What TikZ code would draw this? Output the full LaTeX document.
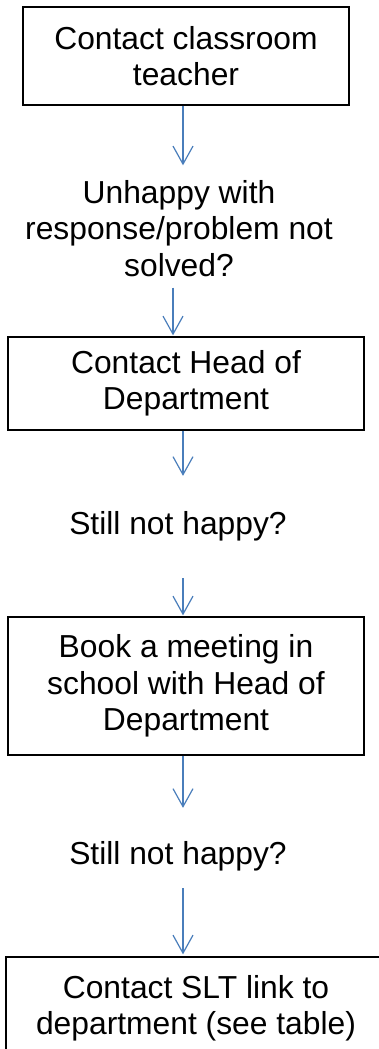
\documentclass[tikz,border=0pt]{standalone}
\usepackage{fontspec}
\setmainfont{Liberation Sans}
\usepackage{tikz}
\usetikzlibrary{arrows.meta,shapes}
\usepackage{xcolor}
\definecolor{dfarrow}{RGB}{74,126,187}
\newcommand{\flowfont}{\fontsize{31.8}{36.5}\selectfont}
\tikzstyle{stepbox} = [rectangle, draw=black, line width=1.3pt, inner sep=0pt, align=center, font=\flowfont]
\tikzstyle{question} = [inner sep=0pt, align=center, font=\flowfont]
\tikzstyle{arrow} = [line width=1.2pt, -{Straight Barb[length=18pt,width=20pt]}, color=dfarrow]

\begin{document}
\begin{tikzpicture}[x=1pt, y=-1pt]
\useasboundingbox (0,0) rectangle (378,1049);

% Steps and questions
\node[stepbox, minimum width=326pt, minimum height=98pt] (teacher) at (186,56) {Contact classroom\\teacher};
\node[question] (unhappy) at (179,228.5) {Unhappy with\\response/problem not\\solved?};
\node[stepbox, minimum width=356pt, minimum height=93pt] (hod) at (186,383.5) {Contact Head of\\Department};
\node[question] (still1) at (178,526.7) {Still not happy?};
\node[stepbox, minimum width=356pt, minimum height=138pt] (meeting) at (186,686) {Book a meeting in\\school with Head of\\Department};
\node[question] (still2) at (178,856.7) {Still not happy?};
\node[stepbox, minimum width=380pt, minimum height=103pt] (slt) at (196,1008.5) {Contact SLT link to\\department (see table)};

% Connections
\draw[arrow, shorten >=14.8pt] ([xshift=-3pt]teacher.south) -- ([xshift=-3pt]teacher.south |- unhappy.north);
\draw[arrow, shorten <=10.7pt, shorten >=1pt] ([xshift=-6pt]unhappy.south) -- ([xshift=-6pt]unhappy.south |- hod.north);
\draw[arrow, shorten >=35.8pt] ([xshift=-3pt]hod.south) -- ([xshift=-3pt]hod.south |- still1.north);
\draw[arrow, shorten <=36.3pt, shorten >=1pt] ([xshift=-3pt]meeting.north |- still1.south) -- ([xshift=-3pt]meeting.north);
\draw[arrow, shorten >=33.8pt] ([xshift=-3pt]meeting.south) -- ([xshift=-3pt]meeting.south |- still2.north);
\draw[arrow, shorten <=16.3pt, shorten >=2pt] ([xshift=-13pt]slt.north |- still2.south) -- ([xshift=-13pt]slt.north);
\end{tikzpicture}
\end{document}
